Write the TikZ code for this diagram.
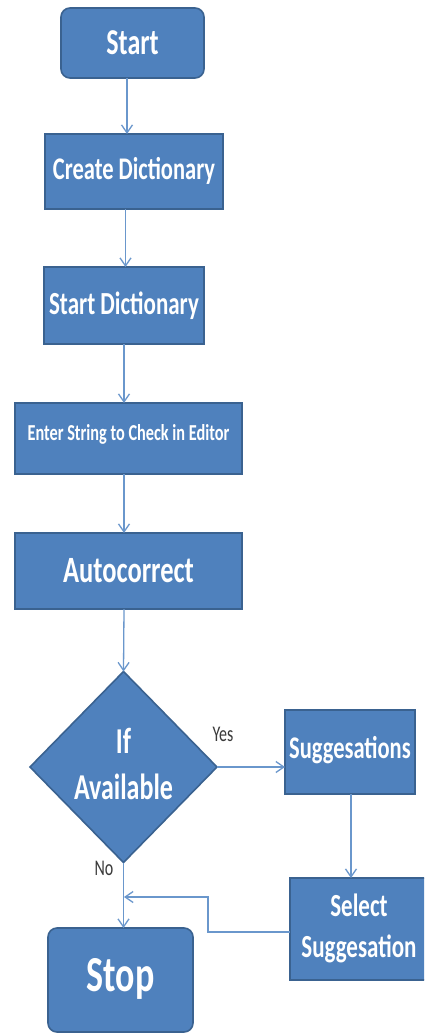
\documentclass[tikz,border=0pt]{standalone}
\usepackage{fontspec}
\usepackage{graphicx}
\setmainfont{Carlito}
\usetikzlibrary{shapes.geometric,arrows.meta}
\definecolor{boxfill}{HTML}{4F81BD}
\definecolor{boxline}{HTML}{3A6290}
\definecolor{arrowc}{HTML}{6A97CC}
\definecolor{lblc}{HTML}{3A3A3A}
\newcommand\vtext[3]{\scalebox{1}[1.4]{\fontsize{#1}{#2}\selectfont\bfseries #3}}
\newcommand\vreg[3]{\scalebox{1}[1.4]{\fontsize{#1}{#2}\selectfont #3}}
\tikzset{
  box/.style={draw=boxline, line width=1.6pt, fill=boxfill, text=white, inner sep=0pt, outer sep=0pt},
  rbox/.style={box, rounded corners=9pt},
  arr/.style={draw=arrowc, line width=1.3pt, -{Straight Barb[length=8pt,width=11pt,line width=1.3pt]}},
  lbl/.style={text=lblc, inner sep=0pt}
}
\begin{document}
\begin{tikzpicture}[x=1pt,y=-1pt]
\clip (0,0) rectangle (424,1033);
\fill[white] (0,0) rectangle (424,1033);
% boxes
\node[rbox, minimum width=143pt, minimum height=70pt] (start) at (132.5,43) {\vtext{26}{32}{Start}};
\node[box, minimum width=178pt, minimum height=75pt] (create) at (134,171.5) {\raisebox{6pt}{\vtext{22.5}{28}{Create Dictionary}}};
\node[box, minimum width=160pt, minimum height=77pt] (sdict) at (124,305.5) {\raisebox{3pt}{\vtext{23}{28}{Start Dictionary}}};
\node[box, minimum width=227pt, minimum height=71pt] (enter) at (128.5,438.5) {\raisebox{12pt}{\vtext{16.3}{20}{Enter String to Check in Editor}}};
\node[box, minimum width=227pt, minimum height=76pt] (auto) at (128.5,571) {\vtext{26.5}{32}{Autocorrect}};
\node[diamond, draw=boxline, line width=1.6pt, fill=boxfill, minimum width=187pt, minimum height=191pt, inner sep=0pt, outer sep=0pt] (cond) at (123.5,767) {};
\node[text=white, inner sep=0pt] (condt) at (cond.center) {\vtext{26}{33}{\begin{tabular}{@{}c@{}}If\\Available\end{tabular}}};
\node[box, minimum width=130pt, minimum height=84pt] (sugg) at (350,752) {\raisebox{10pt}{\vtext{22.5}{28}{Suggesations}}};
\node[box, minimum width=138pt, minimum height=102pt] (select) at (359,929) {\vtext{23}{28.6}{\begin{tabular}{@{}c@{}}Select\\Suggesation\end{tabular}}};
\node[rbox, minimum width=145pt, minimum height=104pt] (stop) at (120.5,980) {\raisebox{10pt}{\vtext{36}{44}{Stop}}};
% labels
\node[lbl] (yes) at (223,734) {\vreg{16}{20}{Yes}};
\node[lbl] (no) at (104,868) {\vreg{16}{20}{No}};
% connectors
\draw[arr] (start.south -| 127,0) -- (create.north -| 127,0);
\draw[arr] (create.south -| 125.5,0) -- (sdict.north -| 125.5,0);
\draw[arr] (sdict.south -| 124,0) -- (enter.north -| 124,0);
\draw[arr] (enter.south -| 124,0) -- (auto.north -| 124,0);
\draw[arr] (auto.south -| 124,0) -- (cond.north);
\draw[arr] (cond.east) -- (sugg.west |- cond.east);
\draw[arr] (sugg.south -| 351,0) -- (select.north -| 351,0);
\draw[arr] (cond.south) -- (stop.north -| cond.south);
\coordinate (merge) at (124,897);
\draw[arr] (select.west |- 0,932) -- (208,932) -- (208,897) -- (merge);
\end{tikzpicture}
\end{document}
